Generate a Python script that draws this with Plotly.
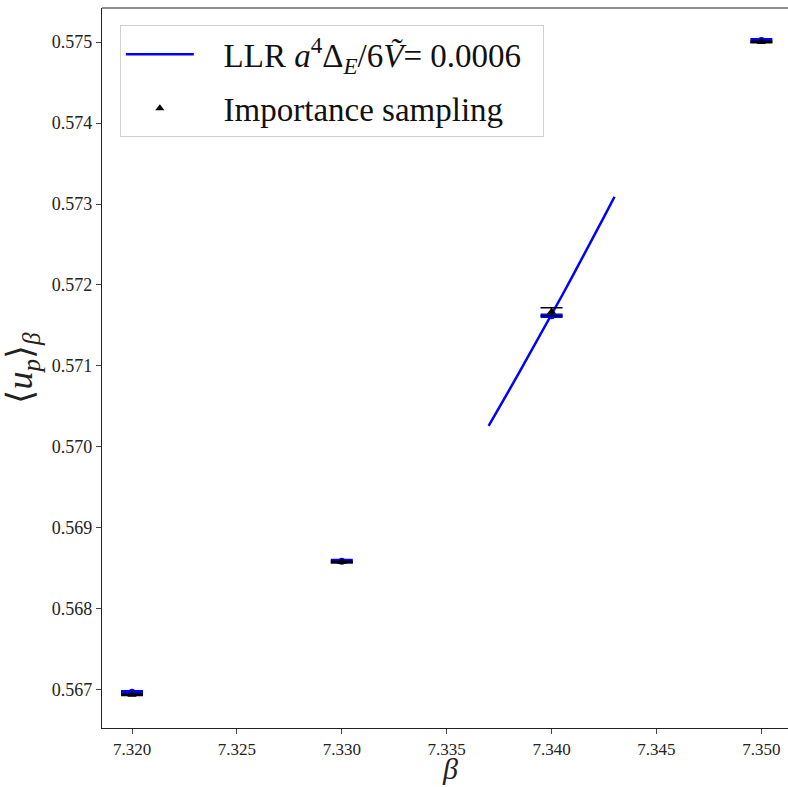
import plotly.graph_objects as go

# Plaquette expectation value <u_p> vs coupling beta
beta_points = [7.320, 7.330, 7.340, 7.350]

# Importance-sampling measurements
is_values = [0.56694, 0.56858, 0.57167, 0.57500]
is_errors = [0.00001, 0.00001, 0.00005, 0.00001]

# LLR estimates at the same couplings
llr_values = [0.56697, 0.56859, 0.57162, 0.57502]
llr_errors = [0.00001, 0.00001, 0.00001, 0.00001]

# LLR reconstruction as a continuous function of beta
llr_curve_beta = [7.3370, 7.3375, 7.3380, 7.3385, 7.3390, 7.3395, 7.3400,
                  7.3405, 7.3410, 7.3415, 7.3420, 7.3425, 7.3430]
llr_curve_up = [0.57026, 0.57048, 0.57071, 0.57094, 0.57117, 0.57140, 0.57163,
                0.57187, 0.57211, 0.57235, 0.57260, 0.57284, 0.57309]

x_ticks = [7.320, 7.325, 7.330, 7.335, 7.340, 7.345, 7.350]
y_ticks = [0.567, 0.568, 0.569, 0.570, 0.571, 0.572, 0.573, 0.574, 0.575]

SERIF = "Liberation Serif"
BLUE = "#0000ff"
PAD = "\u00a0\u00a0\u00a0"

fig = go.Figure()

fig.add_trace(go.Scatter(
    x=llr_curve_beta, y=llr_curve_up, mode="lines",
    line=dict(color=BLUE, width=2.5),
    name=PAD + "LLR <i>a</i><sup>4</sup>Δ<sub><i>E</i></sub>/6<i>V\u0303</i>= 0.0006" + "\u00a0\u00a0",
    legendgroup="llr",
))

fig.add_trace(go.Scatter(
    x=beta_points, y=llr_values, mode="markers",
    marker=dict(symbol="circle", size=7, color=BLUE),
    error_y=dict(type="data", array=llr_errors, visible=True,
                 color=BLUE, thickness=3, width=11),
    showlegend=False, legendgroup="llr",
))

fig.add_trace(go.Scatter(
    x=beta_points, y=is_values, mode="markers",
    marker=dict(symbol="triangle-up", size=8, color="black"),
    error_y=dict(type="data", array=is_errors, visible=True,
                 color="black", thickness=1.5, width=11),
    name=PAD + "Importance sampling",
    legendgroup="is",
))

axis_common = dict(
    showgrid=False, zeroline=False, automargin=False,
    showline=True, linecolor="#222", linewidth=1.2,
    ticks="outside", ticklen=5, tickwidth=1, tickcolor="#444",
)

fig.update_xaxes(
    range=[7.31857, 7.35127], tickvals=x_ticks, tickformat=".3f",
    tickfont=dict(family=SERIF, size=17, color="#222"),
    **axis_common,
)
fig.update_yaxes(
    range=[0.56653, 0.57542], tickvals=y_ticks, tickformat=".3f",
    tickfont=dict(family=SERIF, size=18, color="#222"),
    title=dict(text="⟨<i>u<sub>p</sub></i>⟩<sub><i>β</i></sub>",
               font=dict(family=SERIF, size=36, color="#222"), standoff=8),
    **axis_common,
)

# x-axis label placed below the tick labels
fig.add_annotation(
    text="<i>β</i>", xref="paper", yref="paper", x=0.507, y=-0.0819,
    xanchor="center", yanchor="bottom", showarrow=False,
    font=dict(family=SERIF, size=30, color="#222"),
)

# top frame line
fig.add_shape(type="line", xref="paper", yref="paper", x0=0, x1=1, y0=1, y1=1,
              line=dict(color="#222", width=1.2))

fig.update_layout(
    width=788, height=787,
    margin=dict(l=102, r=0, t=8, b=59),
    paper_bgcolor="white", plot_bgcolor="white",
    legend=dict(
        x=0.026, y=0.976, xanchor="left", yanchor="top",
        bgcolor="rgba(255,255,255,0.85)", bordercolor="#d0d0d0", borderwidth=1,
        font=dict(family=SERIF, size=33, color="#111"),
        itemwidth=68, tracegroupgap=8,
    ),
)

fig.write_html("out.html")
